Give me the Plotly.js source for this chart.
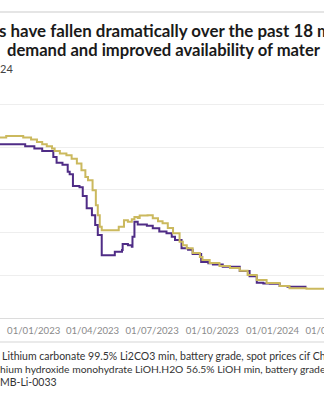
<!DOCTYPE html>
<html>
<head>
<meta charset="utf-8">
<script src="https://cdn.plot.ly/plotly-3.0.1.min.js"></script>
<style>html,body{margin:0;padding:0;background:#fff;overflow:hidden;width:324px;height:400px;}#chart{width:360px;height:400px;}</style>
</head>
<body>
<div id="chart"></div>
<script>
const hydroxideDates = ['2022-11-10','2022-11-20','2022-12-16','2022-12-28','2023-01-06','2023-01-14','2023-01-21','2023-01-29','2023-02-02','2023-02-10','2023-02-20','2023-02-28','2023-03-08','2023-03-15','2023-03-21','2023-03-25','2023-04-01','2023-04-06','2023-04-09','2023-04-12','2023-04-15','2023-05-08','2023-05-11','2023-05-19','2023-05-25','2023-05-31','2023-06-04','2023-06-09','2023-06-12','2023-06-24','2023-07-02','2023-07-10','2023-07-17','2023-07-25','2023-08-02','2023-08-12','2023-08-17','2023-08-23','2023-09-01','2023-09-12','2023-09-16','2023-09-27','2023-10-12','2023-10-28','2023-11-12','2023-11-24','2023-12-08','2023-12-23','2024-01-12','2024-01-27','2024-02-22','2024-03-20'];
const hydroxide = [84.5,85.2,84.5,83.6,82.4,81.3,80.4,79.3,78.2,77.0,76.2,74.6,72.3,69.2,66.0,64.5,59.8,52.8,48.1,42.7,41.1,41.1,42.7,45.8,45.0,46.2,47.3,46.8,48.0,48.1,46.7,45.3,44.4,42.1,39.7,35.7,34.1,32.7,30.4,28.6,27.1,25.7,24.3,23.4,22.1,20.1,17.8,16.4,15.0,13.9,13.7,13.6];

const carbonateDates = ['2022-11-10','2022-12-19','2023-01-02','2023-01-14','2023-01-31','2023-02-05','2023-02-14','2023-02-22','2023-02-25','2023-03-02','2023-03-12','2023-03-17','2023-03-23','2023-03-31','2023-04-05','2023-04-09','2023-04-15','2023-05-02','2023-05-05','2023-05-16','2023-05-17','2023-05-25','2023-05-31','2023-06-01','2023-06-04','2023-06-09','2023-06-23','2023-07-02','2023-07-12','2023-07-23','2023-07-31','2023-08-05','2023-08-15','2023-08-25','2023-09-01','2023-09-14','2023-09-25','2023-10-02','2023-10-17','2023-11-12','2023-11-27','2023-12-08','2023-12-18','2023-12-28','2024-01-12','2024-01-24','2024-02-22'];
const carbonate = [81.3,80.4,79.3,78.2,75.4,72.7,71.7,68.4,67.3,61.8,61.2,57.1,51.4,48.1,43.5,38.8,29.4,29.4,31.0,31.8,34.6,34.1,33.3,38.0,45.0,43.8,43.2,42.0,40.5,39.7,38.0,36.5,32.7,32.0,30.0,26.2,25.6,25.0,24.0,22.0,19.5,16.5,16.2,16.0,15.0,14.6,14.6];

const titleLines = ['s have fallen dramatically over the past 18 m', 'demand and improved availability of mater'];
const subtitle = '24';
const notes = ['Lithium carbonate 99.5% Li2CO3 min, battery grade, spot prices cif Ch', 'hium hydroxide monohydrate LiOH.H2O 56.5% LiOH min, battery grade', 'MB-Li-0033'];

const W = 360, H = 400;
const plotTop = 83, plotBottom = 318, plotH = plotBottom - plotTop;
function py(pix){ return (plotBottom - pix) / plotH; }

const traces = [
  {x: carbonateDates, y: carbonate, type: 'scatter', mode: 'lines', line: {color: '#4f2c86', width: 2, shape: 'hv'}, hoverinfo: 'skip'},
  {x: hydroxideDates, y: hydroxide, type: 'scatter', mode: 'lines', line: {color: '#cbb95e', width: 2, shape: 'hv'}, hoverinfo: 'skip'}
];

const ann = [];
function addText(txt, xpix, ypix, size, color, bold){
  ann.push({text: bold ? '<b>'+txt+'</b>' : txt, xref: 'paper', yref: 'paper', x: 0, y: py(ypix), xshift: xpix, xanchor: 'left', yanchor: 'middle', showarrow: false, font: {family: 'Lato, sans-serif', size: size, color: color}});
}
addText(titleLines[0], -3, 30, 16.9, '#1a1a1a', true);
addText(titleLines[1], 5, 50, 16.6, '#1a1a1a', true);
addText(subtitle, -2, 68, 11, '#444', false);
addText(notes[0], 0, 356, 10.5, '#333', false);
addText(notes[1], -2, 369, 10.3, '#333', false);
addText(notes[2], -2, 382, 10.5, '#333', false);

const layout = {
  width: W, height: H,
  margin: {l: 0, r: 0, t: plotTop, b: H - plotBottom, pad: 0},
  paper_bgcolor: '#fff', plot_bgcolor: '#fff',
  showlegend: false,
  xaxis: {type: 'date', range: ['2022-11-10 12:00', '2024-05-13 19:00'], tick0: '2023-01-01', dtick: 'M3', tickformat: '%d/%m/%Y', tickangle: 0,
          showgrid: false, showline: true, linecolor: '#dcdcdc', linewidth: 1, ticks: 'outside', ticklen: 3, tickcolor: '#fff',
          tickfont: {family: 'Lato, sans-serif', size: 9.6, color: '#8a8a8a'}, fixedrange: true},
  yaxis: {range: [0, 110], dtick: 20, tick0: 0, showgrid: true, gridcolor: '#eeeeee', gridwidth: 1, zeroline: false, showticklabels: false, fixedrange: true},
  shapes: [
    {type: 'line', xref: 'paper', yref: 'paper', x0: 0, x1: 1, y0: py(12), y1: py(12), line: {color: '#dddddd', width: 1.5}},
    {type: 'line', xref: 'paper', yref: 'paper', x0: 0, x1: 1, y0: py(342), y1: py(342), line: {color: '#e3e3e3', width: 1.5}}
  ],
  annotations: ann
};
Plotly.newPlot('chart', traces, layout, {staticPlot: true, displayModeBar: false});
</script>
</body>
</html>
